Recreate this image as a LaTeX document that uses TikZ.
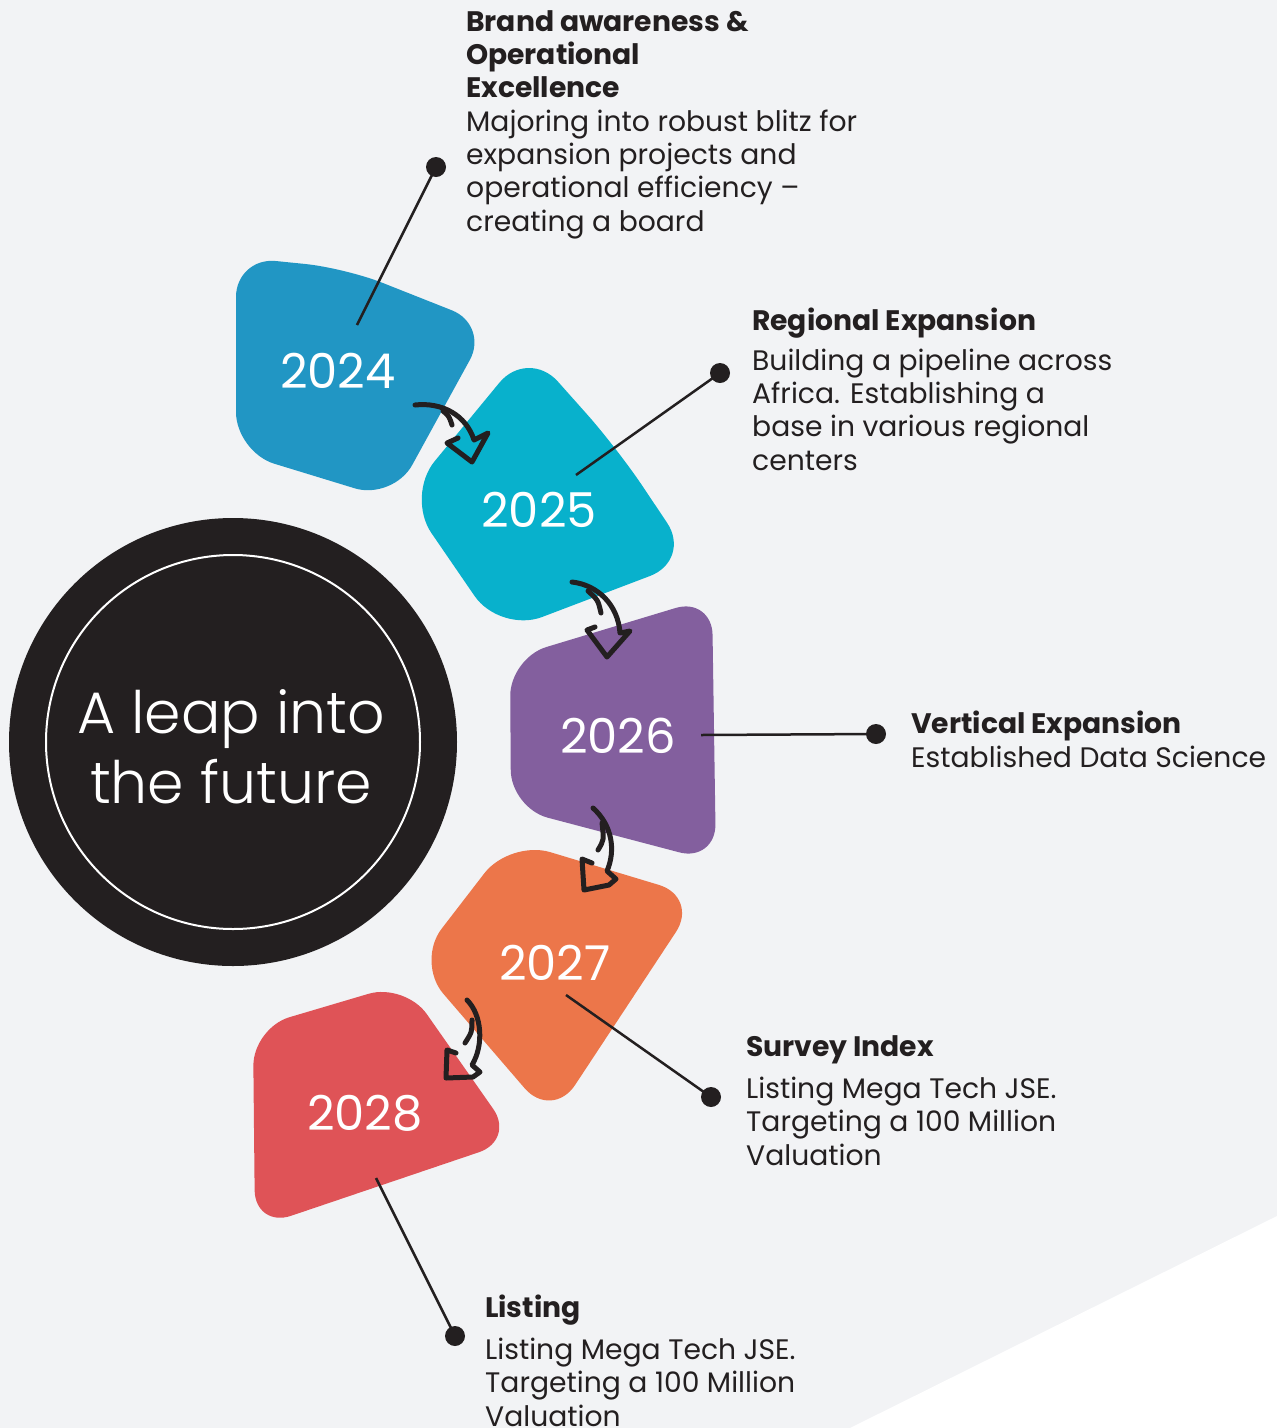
\documentclass[tikz,border=0pt]{standalone}
\usepackage{fontspec}
\setmainfont{Poppins}
\IfFontExistsTF{Poppins Light}{\newfontfamily\lightfont{Poppins Light}}{\newfontfamily\lightfont{Poppins}}
\definecolor{bgc}{HTML}{F2F3F5}
\definecolor{c24}{HTML}{2196C4}
\definecolor{c25}{HTML}{08B1CC}
\definecolor{c26}{HTML}{835F9E}
\definecolor{c27}{HTML}{EC764A}
\definecolor{c28}{HTML}{DF5357}
\definecolor{ink}{HTML}{231F20}
\tikzset{
  blob/.style={rounded corners=#1},
  gapline/.style={draw=bgc, line width=20pt, fill=bgc},
  year/.style={text=white, font=\fontsize{48}{52}\selectfont, anchor=base, inner sep=0pt},
  arr/.style={draw=ink, line width=5pt, line cap=round, line join=round},
  pointer/.style={draw=ink, line width=2.5pt},
  dotnode/.style={circle, fill=ink, minimum size=20pt, inner sep=0pt},
  desc/.style={text=ink, anchor=base west, align=left, inner sep=0pt, font=\fontsize{28.2}{33.3}\selectfont},
}
\begin{document}
\begin{tikzpicture}[x=1pt, y=-1pt]
\useasboundingbox (0,0) rectangle (1277,1428);
\fill[bgc] (0,0) rectangle (1277,1428);
\fill[white] (1277,1216) -- (850,1428) -- (1277,1428) -- cycle;

% blobs
\path[gapline, blob=40] (236,257) -- (345,268) -- (489,325) -- (393,500) -- (236,452) -- cycle;
\fill[c24, blob=40] (236,257) -- (345,268) -- (489,325) -- (393,500) -- (236,452) -- cycle;
\path[gapline, blob=45] (528,348) -- (617,448) -- (692,560) -- (500,633) -- (406,496) -- cycle;
\fill[c25, blob=45] (528,348) -- (617,448) -- (692,560) -- (500,633) -- (406,496) -- cycle;
\path[gapline, blob=38] (510,658) -- (712,597) -- (716,862) -- (511,808) -- cycle;
\fill[c26, blob=38] (510,658) -- (712,597) -- (716,862) -- (511,808) -- cycle;
\path[gapline, blob=42] (510,840) -- (699,897) -- (552,1120) -- (416,962) -- cycle;
\fill[c27, blob=42] (510,840) -- (699,897) -- (552,1120) -- (416,962) -- cycle;
\path[gapline, blob=38] (253,1028) -- (405,983) -- (515,1140) -- (255,1228) -- cycle;
\fill[c28, blob=38] (253,1028) -- (405,983) -- (515,1140) -- (255,1228) -- cycle;

% central circle
\node[circle, fill=ink, minimum size=448pt, inner sep=0pt] (big) at (233,742) {};
\node[circle, draw=white, line width=2pt, minimum size=374pt, inner sep=0pt] (ring) at (233,742) {};
\node[text=white, align=center, anchor=base, inner sep=0pt, font=\lightfont\fontsize{58.5}{70}\selectfont] (leap) at (231,803) {A leap into\\the future};

% years
\node[year] (y24) at (338,388) {2024};
\node[year] (y25) at (539,527) {2025};
\node[year] (y26) at (618,753) {2026};
\node[year] (y27) at (555,980) {2027};
\node[year] (y28) at (365,1130) {2028};

% pointers
\coordinate (p24) at (357,325);
\coordinate (p25) at (576,475);
\coordinate (p26) at (701,735);
\coordinate (p27) at (566,995);
\coordinate (p28) at (376,1178);
\node[dotnode] (d24) at (436,167) {};
\node[dotnode] (d25) at (720,373) {};
\node[dotnode] (d26) at (876,734) {};
\node[dotnode] (d27) at (711,1097) {};
\node[dotnode] (d28) at (455,1336) {};
\draw[pointer] (p24) -- (d24.center);
\draw[pointer] (p25) -- (d25.center);
\draw[pointer] (p26) -- (d26.center);
\draw[pointer] (p27) -- (d27.center);
\draw[pointer] (p28) -- (d28.center);

% hand-drawn arrows
\draw[arr] (415,405) .. controls (442,402) and (466,415) .. (474,440) -- (488,433) -- (472,462) -- (447,443) -- (458,438);
\draw[arr] (443,411) .. controls (449,416) .. (452,425);
\draw[arr] (572,582) .. controls (598,585) and (618,605) .. (620,633) -- (630,631) -- (607,657) -- (587,630) -- (595,627);
\draw[arr] (588,591) .. controls (598,600) .. (601,613);
\draw[arr] (593,808) .. controls (612,825) and (616,850) .. (607,871) -- (616,879) -- (609,885) -- (584,890) -- (582,859) -- (592,863);
\draw[arr] (598,850) .. controls (604,840) .. (602,823);
\draw[arr] (467,1000) .. controls (482,1015) and (484,1045) .. (472,1065) -- (480,1072) -- (473,1077) -- (446,1078) -- (447,1050) -- (456,1053);
\draw[arr] (465,1043) .. controls (472,1032) .. (472,1020);

% descriptions (anchored at the baseline of the last line)
\node[desc] (t24) at (466,231) {\textbf{Brand awareness \&}\\\textbf{Operational}\\\textbf{Excellence}\\Majoring into robust blitz for\\expansion projects and\\operational efficiency –\\creating a board};
\node[desc] (t25) at (752,470) {\textbf{Regional Expansion}\\[6.7pt]Building a pipeline across\\Africa. Establishing a\\base in various regional\\centers};
\node[desc] (t26) at (911,767) {\textbf{Vertical Expansion}\\Established Data Science};
\node[desc] (t27) at (746,1165) {\textbf{Survey Index}\\[8.7pt]Listing Mega Tech JSE.\\Targeting a 100 Million\\Valuation};
\node[desc] (t28) at (485,1426) {\textbf{Listing}\\[8.7pt]Listing Mega Tech JSE.\\Targeting a 100 Million\\Valuation};
\end{tikzpicture}
\end{document}
